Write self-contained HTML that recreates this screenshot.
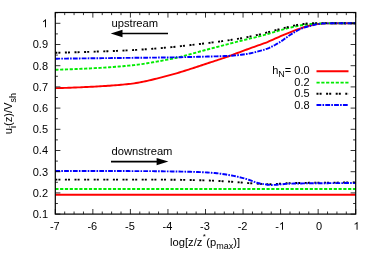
<!DOCTYPE html>
<html><head><meta charset="utf-8"><title>chart</title>
<style>html,body{margin:0;padding:0;background:#fff;overflow:hidden}body{width:374px;height:262px;position:relative;font-family:"Liberation Sans",sans-serif}</style></head>
<body>
<svg width="374" height="262" viewBox="0 0 374 262" style="position:absolute;left:0;top:0;will-change:transform">
<path d="M55.30,88.17 L57.18,88.13 L59.05,88.08 L60.93,88.03 L62.81,87.98 L64.69,87.92 L66.56,87.86 L68.44,87.79 L70.32,87.72 L72.20,87.65 L74.07,87.57 L75.95,87.50 L77.83,87.42 L79.71,87.33 L81.59,87.25 L83.46,87.16 L85.34,87.07 L87.22,86.97 L89.09,86.88 L90.97,86.79 L92.85,86.69 L94.73,86.59 L96.60,86.49 L98.48,86.38 L100.36,86.28 L102.24,86.16 L104.11,86.05 L105.99,85.93 L107.87,85.81 L109.75,85.68 L111.62,85.54 L113.50,85.40 L115.38,85.26 L117.26,85.10 L119.13,84.94 L121.01,84.78 L122.89,84.60 L124.77,84.42 L126.65,84.23 L128.52,84.03 L130.40,83.83 L132.28,83.60 L134.15,83.34 L136.03,83.05 L137.91,82.74 L139.79,82.40 L141.67,82.04 L143.54,81.66 L145.42,81.26 L147.30,80.84 L149.18,80.41 L151.05,79.97 L152.93,79.51 L154.81,79.04 L156.69,78.57 L158.56,78.09 L160.44,77.60 L162.32,77.12 L164.19,76.63 L166.07,76.15 L167.95,75.66 L169.83,75.18 L171.70,74.67 L173.58,74.14 L175.46,73.61 L177.34,73.05 L179.22,72.49 L181.09,71.91 L182.97,71.33 L184.85,70.74 L186.72,70.15 L188.60,69.55 L190.48,68.94 L192.36,68.34 L194.24,67.74 L196.11,67.14 L197.99,66.52 L199.87,65.90 L201.75,65.27 L203.62,64.63 L205.50,64.00 L207.38,63.38 L209.25,62.76 L211.13,62.14 L213.01,61.53 L214.89,60.91 L216.76,60.29 L218.64,59.67 L220.52,59.05 L222.40,58.42 L224.27,57.78 L226.15,57.13 L228.03,56.48 L229.91,55.81 L231.78,55.12 L233.66,54.42 L235.54,53.71 L237.42,52.99 L239.30,52.27 L241.17,51.56 L243.05,50.86 L244.93,50.17 L246.81,49.49 L248.68,48.81 L250.56,48.14 L252.44,47.47 L254.31,46.79 L256.19,46.12 L258.07,45.45 L259.95,44.79 L261.82,44.14 L263.70,43.47 L265.58,42.77 L267.46,42.03 L269.33,41.24 L271.21,40.41 L273.09,39.55 L274.97,38.69 L276.84,37.84 L278.72,37.02 L280.60,36.23 L282.48,35.44 L284.36,34.66 L286.23,33.88 L288.11,33.11 L289.99,32.35 L291.87,31.60 L293.74,30.87 L295.62,30.15 L297.50,29.45 L299.38,28.78 L301.25,28.13 L303.13,27.50 L305.01,26.90 L306.88,26.31 L308.76,25.78 L310.64,25.31 L312.52,24.90 L314.39,24.51 L316.27,24.18 L318.15,23.94 L320.03,23.75 L321.91,23.60 L323.78,23.48 L325.66,23.41 L327.54,23.36 L329.42,23.33 L331.29,23.31 L333.17,23.30 L335.05,23.30 L336.93,23.30 L338.80,23.30 L340.68,23.30 L342.56,23.30 L344.44,23.30 L346.31,23.30 L348.19,23.30 L350.07,23.30 L351.94,23.30 L353.82,23.30 L355.70,23.30" fill="none" stroke="#ff0000" stroke-width="1.9"/>
<path d="M55.30,69.73 L57.18,69.68 L59.05,69.64 L60.93,69.58 L62.81,69.53 L64.69,69.47 L66.56,69.40 L68.44,69.34 L70.32,69.27 L72.20,69.20 L74.07,69.12 L75.95,69.04 L77.83,68.96 L79.71,68.88 L81.59,68.79 L83.46,68.71 L85.34,68.62 L87.22,68.53 L89.09,68.43 L90.97,68.34 L92.85,68.24 L94.73,68.15 L96.60,68.04 L98.48,67.94 L100.36,67.83 L102.24,67.72 L104.11,67.60 L105.99,67.48 L107.87,67.36 L109.75,67.23 L111.62,67.10 L113.50,66.96 L115.38,66.81 L117.26,66.67 L119.13,66.52 L121.01,66.36 L122.89,66.19 L124.77,66.03 L126.65,65.85 L128.52,65.67 L130.40,65.49 L132.28,65.29 L134.15,65.08 L136.03,64.85 L137.91,64.61 L139.79,64.36 L141.67,64.09 L143.54,63.82 L145.42,63.53 L147.30,63.23 L149.18,62.93 L151.05,62.61 L152.93,62.29 L154.81,61.96 L156.69,61.63 L158.56,61.29 L160.44,60.95 L162.32,60.60 L164.19,60.25 L166.07,59.90 L167.95,59.55 L169.83,59.19 L171.70,58.81 L173.58,58.41 L175.46,57.99 L177.34,57.56 L179.22,57.11 L181.09,56.65 L182.97,56.17 L184.85,55.68 L186.72,55.18 L188.60,54.67 L190.48,54.15 L192.36,53.63 L194.24,53.11 L196.11,52.58 L197.99,52.06 L199.87,51.54 L201.75,51.02 L203.62,50.51 L205.50,50.01 L207.38,49.52 L209.25,49.02 L211.13,48.53 L213.01,48.03 L214.89,47.54 L216.76,47.04 L218.64,46.55 L220.52,46.06 L222.40,45.57 L224.27,45.08 L226.15,44.59 L228.03,44.10 L229.91,43.62 L231.78,43.13 L233.66,42.65 L235.54,42.17 L237.42,41.69 L239.30,41.21 L241.17,40.73 L243.05,40.26 L244.93,39.79 L246.81,39.34 L248.68,38.89 L250.56,38.44 L252.44,38.00 L254.31,37.55 L256.19,37.10 L258.07,36.64 L259.95,36.17 L261.82,35.68 L263.70,35.18 L265.58,34.65 L267.46,34.10 L269.33,33.54 L271.21,32.96 L273.09,32.39 L274.97,31.81 L276.84,31.25 L278.72,30.70 L280.60,30.17 L282.48,29.67 L284.36,29.18 L286.23,28.68 L288.11,28.19 L289.99,27.71 L291.87,27.24 L293.74,26.79 L295.62,26.37 L297.50,25.98 L299.38,25.62 L301.25,25.29 L303.13,24.99 L305.01,24.70 L306.88,24.44 L308.76,24.22 L310.64,24.04 L312.52,23.91 L314.39,23.80 L316.27,23.70 L318.15,23.62 L320.03,23.53 L321.91,23.45 L323.78,23.38 L325.66,23.34 L327.54,23.33 L329.42,23.31 L331.29,23.30 L333.17,23.30 L335.05,23.30 L336.93,23.30 L338.80,23.30 L340.68,23.30 L342.56,23.30 L344.44,23.30 L346.31,23.30 L348.19,23.30 L350.07,23.30 L351.94,23.30 L353.82,23.30 L355.70,23.30" fill="none" stroke="#00ec00" stroke-width="1.9" stroke-dasharray="3.2,1.6"/>
<path d="M55.30,52.77 L57.18,52.72 L59.05,52.68 L60.93,52.64 L62.81,52.59 L64.69,52.54 L66.56,52.49 L68.44,52.44 L70.32,52.39 L72.20,52.34 L74.07,52.29 L75.95,52.23 L77.83,52.18 L79.71,52.12 L81.59,52.07 L83.46,52.01 L85.34,51.95 L87.22,51.89 L89.09,51.83 L90.97,51.77 L92.85,51.71 L94.73,51.65 L96.60,51.58 L98.48,51.52 L100.36,51.46 L102.24,51.39 L104.11,51.33 L105.99,51.26 L107.87,51.19 L109.75,51.12 L111.62,51.05 L113.50,50.98 L115.38,50.91 L117.26,50.83 L119.13,50.75 L121.01,50.67 L122.89,50.59 L124.77,50.50 L126.65,50.41 L128.52,50.32 L130.40,50.22 L132.28,50.12 L134.15,50.02 L136.03,49.91 L137.91,49.80 L139.79,49.68 L141.67,49.55 L143.54,49.43 L145.42,49.30 L147.30,49.16 L149.18,49.02 L151.05,48.88 L152.93,48.73 L154.81,48.58 L156.69,48.43 L158.56,48.28 L160.44,48.12 L162.32,47.96 L164.19,47.80 L166.07,47.63 L167.95,47.47 L169.83,47.30 L171.70,47.12 L173.58,46.94 L175.46,46.75 L177.34,46.55 L179.22,46.35 L181.09,46.14 L182.97,45.93 L184.85,45.72 L186.72,45.50 L188.60,45.28 L190.48,45.06 L192.36,44.84 L194.24,44.62 L196.11,44.40 L197.99,44.18 L199.87,43.96 L201.75,43.74 L203.62,43.52 L205.50,43.30 L207.38,43.07 L209.25,42.85 L211.13,42.62 L213.01,42.38 L214.89,42.15 L216.76,41.91 L218.64,41.66 L220.52,41.41 L222.40,41.16 L224.27,40.90 L226.15,40.63 L228.03,40.36 L229.91,40.08 L231.78,39.80 L233.66,39.51 L235.54,39.21 L237.42,38.91 L239.30,38.59 L241.17,38.26 L243.05,37.93 L244.93,37.58 L246.81,37.21 L248.68,36.83 L250.56,36.43 L252.44,36.02 L254.31,35.61 L256.19,35.18 L258.07,34.75 L259.95,34.30 L261.82,33.84 L263.70,33.36 L265.58,32.86 L267.46,32.36 L269.33,31.85 L271.21,31.34 L273.09,30.84 L274.97,30.33 L276.84,29.83 L278.72,29.35 L280.60,28.87 L282.48,28.42 L284.36,27.95 L286.23,27.47 L288.11,26.99 L289.99,26.52 L291.87,26.06 L293.74,25.62 L295.62,25.21 L297.50,24.85 L299.38,24.53 L301.25,24.26 L303.13,24.00 L305.01,23.76 L306.88,23.56 L308.76,23.40 L310.64,23.30 L312.52,23.24 L314.39,23.19 L316.27,23.15 L318.15,23.12 L320.03,23.10 L321.91,23.09 L323.78,23.10 L325.66,23.14 L327.54,23.19 L329.42,23.25 L331.29,23.28 L333.17,23.30 L335.05,23.30 L336.93,23.30 L338.80,23.30 L340.68,23.30 L342.56,23.30 L344.44,23.30 L346.31,23.30 L348.19,23.30 L350.07,23.30 L351.94,23.30 L353.82,23.30 L355.70,23.30" fill="none" stroke="#000" stroke-width="1.9" stroke-dasharray="2,1.1,2,4.5"/>
<path d="M55.30,58.70 L57.18,58.68 L59.05,58.66 L60.93,58.64 L62.81,58.62 L64.69,58.60 L66.56,58.58 L68.44,58.56 L70.32,58.53 L72.20,58.51 L74.07,58.49 L75.95,58.47 L77.83,58.45 L79.71,58.43 L81.59,58.41 L83.46,58.39 L85.34,58.36 L87.22,58.34 L89.09,58.32 L90.97,58.30 L92.85,58.28 L94.73,58.26 L96.60,58.24 L98.48,58.22 L100.36,58.20 L102.24,58.17 L104.11,58.15 L105.99,58.13 L107.87,58.11 L109.75,58.09 L111.62,58.07 L113.50,58.05 L115.38,58.03 L117.26,58.00 L119.13,57.98 L121.01,57.96 L122.89,57.94 L124.77,57.92 L126.65,57.90 L128.52,57.88 L130.40,57.86 L132.28,57.84 L134.15,57.81 L136.03,57.79 L137.91,57.78 L139.79,57.76 L141.67,57.74 L143.54,57.72 L145.42,57.70 L147.30,57.68 L149.18,57.66 L151.05,57.64 L152.93,57.62 L154.81,57.60 L156.69,57.58 L158.56,57.56 L160.44,57.53 L162.32,57.51 L164.19,57.49 L166.07,57.46 L167.95,57.43 L169.83,57.40 L171.70,57.37 L173.58,57.34 L175.46,57.30 L177.34,57.27 L179.22,57.23 L181.09,57.19 L182.97,57.15 L184.85,57.11 L186.72,57.07 L188.60,57.02 L190.48,56.98 L192.36,56.93 L194.24,56.89 L196.11,56.84 L197.99,56.80 L199.87,56.75 L201.75,56.71 L203.62,56.66 L205.50,56.62 L207.38,56.57 L209.25,56.53 L211.13,56.48 L213.01,56.44 L214.89,56.38 L216.76,56.33 L218.64,56.27 L220.52,56.21 L222.40,56.14 L224.27,56.07 L226.15,55.99 L228.03,55.91 L229.91,55.81 L231.78,55.70 L233.66,55.55 L235.54,55.38 L237.42,55.19 L239.30,54.98 L241.17,54.75 L243.05,54.50 L244.93,54.24 L246.81,53.96 L248.68,53.66 L250.56,53.29 L252.44,52.86 L254.31,52.39 L256.19,51.91 L258.07,51.43 L259.95,50.94 L261.82,50.43 L263.70,49.88 L265.58,49.27 L267.46,48.60 L269.33,47.83 L271.21,46.96 L273.09,46.00 L274.97,44.99 L276.84,43.92 L278.72,42.82 L280.60,41.68 L282.48,40.41 L284.36,39.05 L286.23,37.65 L288.11,36.29 L289.99,35.00 L291.87,33.83 L293.74,32.68 L295.62,31.56 L297.50,30.48 L299.38,29.50 L301.25,28.63 L303.13,27.90 L305.01,27.28 L306.88,26.73 L308.76,26.22 L310.64,25.74 L312.52,25.25 L314.39,24.77 L316.27,24.35 L318.15,24.04 L320.03,23.82 L321.91,23.63 L323.78,23.49 L325.66,23.41 L327.54,23.36 L329.42,23.33 L331.29,23.31 L333.17,23.30 L335.05,23.30 L336.93,23.30 L338.80,23.30 L340.68,23.30 L342.56,23.30 L344.44,23.30 L346.31,23.30 L348.19,23.30 L350.07,23.30 L351.94,23.30 L353.82,23.30 L355.70,23.30" fill="none" stroke="#0000ff" stroke-width="1.9" stroke-dasharray="4.8,1.2,1.6,1.2"/>
<path d="M55.30,194.81 L57.18,194.81 L59.05,194.81 L60.93,194.81 L62.81,194.81 L64.69,194.81 L66.56,194.81 L68.44,194.81 L70.32,194.81 L72.20,194.81 L74.07,194.81 L75.95,194.81 L77.83,194.81 L79.71,194.81 L81.59,194.81 L83.46,194.81 L85.34,194.81 L87.22,194.81 L89.09,194.81 L90.97,194.81 L92.85,194.81 L94.73,194.81 L96.60,194.81 L98.48,194.81 L100.36,194.81 L102.24,194.81 L104.11,194.81 L105.99,194.81 L107.87,194.81 L109.75,194.81 L111.62,194.81 L113.50,194.81 L115.38,194.81 L117.26,194.81 L119.13,194.81 L121.01,194.81 L122.89,194.81 L124.77,194.81 L126.65,194.81 L128.52,194.81 L130.40,194.81 L132.28,194.81 L134.15,194.81 L136.03,194.81 L137.91,194.81 L139.79,194.81 L141.67,194.81 L143.54,194.81 L145.42,194.81 L147.30,194.81 L149.18,194.81 L151.05,194.81 L152.93,194.81 L154.81,194.81 L156.69,194.81 L158.56,194.81 L160.44,194.81 L162.32,194.81 L164.19,194.81 L166.07,194.81 L167.95,194.81 L169.83,194.81 L171.70,194.81 L173.58,194.81 L175.46,194.81 L177.34,194.81 L179.22,194.81 L181.09,194.81 L182.97,194.81 L184.85,194.81 L186.72,194.81 L188.60,194.81 L190.48,194.81 L192.36,194.81 L194.24,194.81 L196.11,194.81 L197.99,194.81 L199.87,194.81 L201.75,194.81 L203.62,194.81 L205.50,194.81 L207.38,194.81 L209.25,194.81 L211.13,194.81 L213.01,194.81 L214.89,194.81 L216.76,194.81 L218.64,194.81 L220.52,194.81 L222.40,194.81 L224.27,194.81 L226.15,194.81 L228.03,194.81 L229.91,194.81 L231.78,194.81 L233.66,194.81 L235.54,194.81 L237.42,194.81 L239.30,194.81 L241.17,194.81 L243.05,194.81 L244.93,194.81 L246.81,194.81 L248.68,194.81 L250.56,194.81 L252.44,194.81 L254.31,194.81 L256.19,194.81 L258.07,194.81 L259.95,194.81 L261.82,194.81 L263.70,194.81 L265.58,194.81 L267.46,194.81 L269.33,194.81 L271.21,194.81 L273.09,194.81 L274.97,194.81 L276.84,194.81 L278.72,194.81 L280.60,194.81 L282.48,194.81 L284.36,194.81 L286.23,194.81 L288.11,194.81 L289.99,194.81 L291.87,194.81 L293.74,194.81 L295.62,194.81 L297.50,194.81 L299.38,194.81 L301.25,194.81 L303.13,194.81 L305.01,194.81 L306.88,194.81 L308.76,194.81 L310.64,194.81 L312.52,194.81 L314.39,194.81 L316.27,194.81 L318.15,194.81 L320.03,194.81 L321.91,194.81 L323.78,194.81 L325.66,194.81 L327.54,194.81 L329.42,194.81 L331.29,194.81 L333.17,194.81 L335.05,194.81 L336.93,194.81 L338.80,194.81 L340.68,194.81 L342.56,194.81 L344.44,194.81 L346.31,194.81 L348.19,194.81 L350.07,194.81 L351.94,194.81 L353.82,194.81 L355.70,194.81" fill="none" stroke="#ff0000" stroke-width="1.9"/>
<path d="M55.30,189.00 L57.18,189.00 L59.05,189.00 L60.93,189.00 L62.81,189.00 L64.69,189.00 L66.56,189.00 L68.44,189.00 L70.32,189.00 L72.20,189.00 L74.07,189.00 L75.95,189.00 L77.83,189.00 L79.71,189.00 L81.59,189.00 L83.46,189.00 L85.34,189.00 L87.22,189.00 L89.09,189.00 L90.97,189.00 L92.85,189.00 L94.73,189.00 L96.60,189.00 L98.48,189.00 L100.36,189.00 L102.24,189.00 L104.11,189.00 L105.99,189.00 L107.87,189.00 L109.75,189.00 L111.62,189.00 L113.50,189.00 L115.38,189.00 L117.26,189.00 L119.13,189.00 L121.01,189.00 L122.89,189.00 L124.77,189.00 L126.65,189.00 L128.52,189.00 L130.40,189.00 L132.28,189.00 L134.15,189.00 L136.03,189.00 L137.91,189.00 L139.79,189.00 L141.67,189.00 L143.54,189.00 L145.42,189.00 L147.30,189.00 L149.18,189.00 L151.05,189.00 L152.93,189.00 L154.81,189.00 L156.69,189.00 L158.56,189.00 L160.44,189.00 L162.32,189.00 L164.19,189.00 L166.07,189.00 L167.95,189.00 L169.83,189.00 L171.70,189.00 L173.58,189.00 L175.46,189.00 L177.34,189.00 L179.22,189.00 L181.09,189.00 L182.97,189.00 L184.85,189.00 L186.72,189.00 L188.60,189.00 L190.48,189.00 L192.36,189.00 L194.24,189.00 L196.11,189.00 L197.99,189.00 L199.87,189.00 L201.75,189.00 L203.62,189.00 L205.50,189.00 L207.38,189.00 L209.25,189.00 L211.13,189.00 L213.01,189.00 L214.89,189.00 L216.76,189.00 L218.64,189.00 L220.52,189.00 L222.40,189.00 L224.27,189.00 L226.15,189.00 L228.03,189.00 L229.91,189.00 L231.78,189.00 L233.66,189.00 L235.54,189.00 L237.42,189.00 L239.30,189.00 L241.17,189.00 L243.05,189.00 L244.93,189.00 L246.81,189.00 L248.68,189.00 L250.56,189.00 L252.44,189.00 L254.31,189.00 L256.19,189.00 L258.07,189.00 L259.95,189.00 L261.82,189.00 L263.70,189.00 L265.58,189.00 L267.46,189.00 L269.33,189.00 L271.21,189.00 L273.09,189.00 L274.97,189.00 L276.84,189.00 L278.72,189.00 L280.60,189.00 L282.48,189.00 L284.36,189.00 L286.23,189.00 L288.11,189.00 L289.99,189.00 L291.87,189.00 L293.74,189.00 L295.62,189.00 L297.50,189.00 L299.38,189.00 L301.25,189.00 L303.13,189.00 L305.01,189.00 L306.88,189.00 L308.76,189.00 L310.64,189.00 L312.52,189.00 L314.39,189.00 L316.27,189.00 L318.15,189.00 L320.03,189.00 L321.91,189.00 L323.78,189.00 L325.66,189.00 L327.54,189.00 L329.42,189.00 L331.29,189.00 L333.17,189.00 L335.05,189.00 L336.93,189.00 L338.80,189.00 L340.68,189.00 L342.56,189.00 L344.44,189.00 L346.31,189.00 L348.19,189.00 L350.07,189.00 L351.94,189.00 L353.82,189.00 L355.70,189.00" fill="none" stroke="#00ec00" stroke-width="1.9" stroke-dasharray="3.2,1.6"/>
<path d="M55.30,179.65 L57.18,179.65 L59.05,179.65 L60.93,179.65 L62.81,179.65 L64.69,179.65 L66.56,179.65 L68.44,179.65 L70.32,179.65 L72.20,179.65 L74.07,179.65 L75.95,179.65 L77.83,179.65 L79.71,179.65 L81.59,179.65 L83.46,179.65 L85.34,179.65 L87.22,179.65 L89.09,179.65 L90.97,179.65 L92.85,179.65 L94.73,179.65 L96.60,179.65 L98.48,179.65 L100.36,179.65 L102.24,179.65 L104.11,179.65 L105.99,179.65 L107.87,179.65 L109.75,179.65 L111.62,179.65 L113.50,179.65 L115.38,179.65 L117.26,179.65 L119.13,179.65 L121.01,179.65 L122.89,179.65 L124.77,179.65 L126.65,179.65 L128.52,179.65 L130.40,179.65 L132.28,179.65 L134.15,179.65 L136.03,179.65 L137.91,179.65 L139.79,179.65 L141.67,179.65 L143.54,179.65 L145.42,179.65 L147.30,179.65 L149.18,179.65 L151.05,179.65 L152.93,179.65 L154.81,179.65 L156.69,179.65 L158.56,179.65 L160.44,179.65 L162.32,179.65 L164.19,179.66 L166.07,179.67 L167.95,179.68 L169.83,179.69 L171.70,179.71 L173.58,179.73 L175.46,179.75 L177.34,179.78 L179.22,179.81 L181.09,179.84 L182.97,179.87 L184.85,179.91 L186.72,179.95 L188.60,179.98 L190.48,180.02 L192.36,180.07 L194.24,180.11 L196.11,180.15 L197.99,180.20 L199.87,180.25 L201.75,180.29 L203.62,180.34 L205.50,180.39 L207.38,180.45 L209.25,180.51 L211.13,180.59 L213.01,180.67 L214.89,180.77 L216.76,180.86 L218.64,180.97 L220.52,181.07 L222.40,181.18 L224.27,181.30 L226.15,181.41 L228.03,181.52 L229.91,181.65 L231.78,181.78 L233.66,181.93 L235.54,182.08 L237.42,182.23 L239.30,182.39 L241.17,182.55 L243.05,182.70 L244.93,182.86 L246.81,183.01 L248.68,183.15 L250.56,183.28 L252.44,183.40 L254.31,183.51 L256.19,183.62 L258.07,183.74 L259.95,183.86 L261.82,183.97 L263.70,184.07 L265.58,184.14 L267.46,184.19 L269.33,184.21 L271.21,184.19 L273.09,184.13 L274.97,184.04 L276.84,183.94 L278.72,183.81 L280.60,183.68 L282.48,183.55 L284.36,183.42 L286.23,183.31 L288.11,183.22 L289.99,183.15 L291.87,183.11 L293.74,183.07 L295.62,183.03 L297.50,182.99 L299.38,182.96 L301.25,182.93 L303.13,182.90 L305.01,182.87 L306.88,182.84 L308.76,182.82 L310.64,182.80 L312.52,182.78 L314.39,182.76 L316.27,182.74 L318.15,182.72 L320.03,182.71 L321.91,182.69 L323.78,182.68 L325.66,182.66 L327.54,182.65 L329.42,182.63 L331.29,182.62 L333.17,182.60 L335.05,182.59 L336.93,182.58 L338.80,182.57 L340.68,182.56 L342.56,182.55 L344.44,182.54 L346.31,182.53 L348.19,182.52 L350.07,182.52 L351.94,182.52 L353.82,182.51 L355.70,182.51" fill="none" stroke="#000" stroke-width="1.9" stroke-dasharray="2,1.1,2,4.5"/>
<path d="M55.30,171.02 L57.18,171.02 L59.05,171.02 L60.93,171.02 L62.81,171.02 L64.69,171.02 L66.56,171.02 L68.44,171.02 L70.32,171.02 L72.20,171.02 L74.07,171.02 L75.95,171.02 L77.83,171.03 L79.71,171.03 L81.59,171.03 L83.46,171.03 L85.34,171.03 L87.22,171.03 L89.09,171.03 L90.97,171.03 L92.85,171.03 L94.73,171.03 L96.60,171.04 L98.48,171.04 L100.36,171.04 L102.24,171.04 L104.11,171.04 L105.99,171.04 L107.87,171.05 L109.75,171.05 L111.62,171.05 L113.50,171.05 L115.38,171.06 L117.26,171.06 L119.13,171.06 L121.01,171.06 L122.89,171.07 L124.77,171.07 L126.65,171.07 L128.52,171.07 L130.40,171.08 L132.28,171.08 L134.15,171.08 L136.03,171.09 L137.91,171.09 L139.79,171.09 L141.67,171.10 L143.54,171.10 L145.42,171.11 L147.30,171.11 L149.18,171.13 L151.05,171.15 L152.93,171.17 L154.81,171.20 L156.69,171.22 L158.56,171.25 L160.44,171.28 L162.32,171.30 L164.19,171.33 L166.07,171.35 L167.95,171.38 L169.83,171.41 L171.70,171.43 L173.58,171.46 L175.46,171.49 L177.34,171.53 L179.22,171.56 L181.09,171.59 L182.97,171.63 L184.85,171.67 L186.72,171.71 L188.60,171.75 L190.48,171.80 L192.36,171.85 L194.24,171.90 L196.11,171.96 L197.99,172.02 L199.87,172.10 L201.75,172.18 L203.62,172.28 L205.50,172.38 L207.38,172.49 L209.25,172.61 L211.13,172.74 L213.01,172.88 L214.89,173.04 L216.76,173.22 L218.64,173.44 L220.52,173.69 L222.40,173.96 L224.27,174.24 L226.15,174.55 L228.03,174.87 L229.91,175.20 L231.78,175.53 L233.66,175.88 L235.54,176.27 L237.42,176.69 L239.30,177.14 L241.17,177.61 L243.05,178.09 L244.93,178.60 L246.81,179.13 L248.68,179.75 L250.56,180.43 L252.44,181.14 L254.31,181.83 L256.19,182.47 L258.07,183.02 L259.95,183.45 L261.82,183.79 L263.70,184.13 L265.58,184.43 L267.46,184.69 L269.33,184.87 L271.21,184.95 L273.09,184.93 L274.97,184.85 L276.84,184.72 L278.72,184.56 L280.60,184.38 L282.48,184.19 L284.36,184.01 L286.23,183.85 L288.11,183.72 L289.99,183.64 L291.87,183.60 L293.74,183.56 L295.62,183.52 L297.50,183.49 L299.38,183.46 L301.25,183.43 L303.13,183.40 L305.01,183.38 L306.88,183.36 L308.76,183.34 L310.64,183.32 L312.52,183.30 L314.39,183.29 L316.27,183.27 L318.15,183.25 L320.03,183.24 L321.91,183.22 L323.78,183.21 L325.66,183.19 L327.54,183.18 L329.42,183.17 L331.29,183.15 L333.17,183.14 L335.05,183.13 L336.93,183.11 L338.80,183.10 L340.68,183.09 L342.56,183.08 L344.44,183.07 L346.31,183.07 L348.19,183.06 L350.07,183.05 L351.94,183.05 L353.82,183.04 L355.70,183.04" fill="none" stroke="#0000ff" stroke-width="1.9" stroke-dasharray="4.8,1.2,1.6,1.2"/>
<rect x="55.3" y="12.5" width="300.4" height="201.6" fill="none" stroke="#000" stroke-width="1.2"/>
<path d="M55.30,214.1v-5.1M55.30,12.5v5.1M64.69,214.1v-2.6M64.69,12.5v2.6M74.07,214.1v-2.6M74.07,12.5v2.6M83.46,214.1v-2.6M83.46,12.5v2.6M92.85,214.1v-5.1M92.85,12.5v5.1M102.24,214.1v-2.6M102.24,12.5v2.6M111.62,214.1v-2.6M111.62,12.5v2.6M121.01,214.1v-2.6M121.01,12.5v2.6M130.40,214.1v-5.1M130.40,12.5v5.1M139.79,214.1v-2.6M139.79,12.5v2.6M149.18,214.1v-2.6M149.18,12.5v2.6M158.56,214.1v-2.6M158.56,12.5v2.6M167.95,214.1v-5.1M167.95,12.5v5.1M177.34,214.1v-2.6M177.34,12.5v2.6M186.72,214.1v-2.6M186.72,12.5v2.6M196.11,214.1v-2.6M196.11,12.5v2.6M205.50,214.1v-5.1M205.50,12.5v5.1M214.89,214.1v-2.6M214.89,12.5v2.6M224.27,214.1v-2.6M224.27,12.5v2.6M233.66,214.1v-2.6M233.66,12.5v2.6M243.05,214.1v-5.1M243.05,12.5v5.1M252.44,214.1v-2.6M252.44,12.5v2.6M261.82,214.1v-2.6M261.82,12.5v2.6M271.21,214.1v-2.6M271.21,12.5v2.6M280.60,214.1v-5.1M280.60,12.5v5.1M289.99,214.1v-2.6M289.99,12.5v2.6M299.38,214.1v-2.6M299.38,12.5v2.6M308.76,214.1v-2.6M308.76,12.5v2.6M318.15,214.1v-5.1M318.15,12.5v5.1M327.54,214.1v-2.6M327.54,12.5v2.6M336.93,214.1v-2.6M336.93,12.5v2.6M346.31,214.1v-2.6M346.31,12.5v2.6M355.70,214.1v-5.1M355.70,12.5v5.1M55.3,214.10h5.1M355.7,214.10h-5.1M55.3,203.50h2.6M355.7,203.50h-2.6M55.3,192.90h5.1M355.7,192.90h-5.1M55.3,182.30h2.6M355.7,182.30h-2.6M55.3,171.70h5.1M355.7,171.70h-5.1M55.3,161.10h2.6M355.7,161.10h-2.6M55.3,150.50h5.1M355.7,150.50h-5.1M55.3,139.90h2.6M355.7,139.90h-2.6M55.3,129.30h5.1M355.7,129.30h-5.1M55.3,118.70h2.6M355.7,118.70h-2.6M55.3,108.10h5.1M355.7,108.10h-5.1M55.3,97.50h2.6M355.7,97.50h-2.6M55.3,86.90h5.1M355.7,86.90h-5.1M55.3,76.30h2.6M355.7,76.30h-2.6M55.3,65.70h5.1M355.7,65.70h-5.1M55.3,55.10h2.6M355.7,55.10h-2.6M55.3,44.50h5.1M355.7,44.50h-5.1M55.3,33.90h2.6M355.7,33.90h-2.6M55.3,23.30h5.1M355.7,23.30h-5.1M55.3,12.70h2.6M355.7,12.70h-2.6" stroke="#000" stroke-width="0.8" fill="none"/>
<g font-family="Liberation Sans, sans-serif" font-size="11" fill="#000">
<text x="48" y="218.00" text-anchor="end">0.1</text>
<text x="48" y="196.80" text-anchor="end">0.2</text>
<text x="48" y="175.60" text-anchor="end">0.3</text>
<text x="48" y="154.40" text-anchor="end">0.4</text>
<text x="48" y="133.20" text-anchor="end">0.5</text>
<text x="48" y="112.00" text-anchor="end">0.6</text>
<text x="48" y="90.80" text-anchor="end">0.7</text>
<text x="48" y="69.60" text-anchor="end">0.8</text>
<text x="48" y="48.40" text-anchor="end">0.9</text>
<path transform="translate(41.88,27.20) scale(0.005371)" d="M763 0H583V-1147Q518 -1085 412.5 -1023Q307 -961 223 -930V-1104Q374 -1175 487 -1276Q600 -1377 647 -1472H763Z" fill="#000"/>
<text x="54.80" y="229.8" text-anchor="middle">-7</text>
<text x="92.35" y="229.8" text-anchor="middle">-6</text>
<text x="129.90" y="229.8" text-anchor="middle">-5</text>
<text x="167.45" y="229.8" text-anchor="middle">-4</text>
<text x="205.00" y="229.8" text-anchor="middle">-3</text>
<text x="242.55" y="229.8" text-anchor="middle">-2</text>
<text x="275.21" y="229.8">-</text>
<path transform="translate(278.87,229.80) scale(0.005371)" d="M763 0H583V-1147Q518 -1085 412.5 -1023Q307 -961 223 -930V-1104Q374 -1175 487 -1276Q600 -1377 647 -1472H763Z" fill="#000"/>
<text x="318.95" y="229.8" text-anchor="middle">0</text>
<path transform="translate(353.44,229.80) scale(0.005371)" d="M763 0H583V-1147Q518 -1085 412.5 -1023Q307 -961 223 -930V-1104Q374 -1175 487 -1276Q600 -1377 647 -1472H763Z" fill="#000"/>
<text x="111.5" y="26.7" font-size="11.2">upstream</text>
<text x="111.5" y="154.7" font-size="11.2">downstream</text>
<text x="309.6" y="74.3" text-anchor="end">h<tspan font-size="9" dy="3">N</tspan><tspan dy="-3">= 0.0</tspan></text>
<text x="309.6" y="85.85" text-anchor="end">0.2</text>
<text x="309.6" y="97.40" text-anchor="end">0.5</text>
<text x="309.6" y="108.95" text-anchor="end">0.8</text>
<text x="170" y="246.1" font-size="11.2">log[z/z<tspan font-size="8" dy="-7.3" dx="0.3">*</tspan><tspan dy="7.3" dx="0.5">(p</tspan><tspan font-size="9" dy="3">max</tspan><tspan dy="-3">)]</tspan></text>
<text transform="translate(12.3,134.3) rotate(-90)" font-size="11.2">u<tspan font-size="9" dy="3.4">i</tspan><tspan dy="-3.4">(z)/V</tspan><tspan font-size="9" dy="3.4">sh</tspan></text>
</g>
<path d="M316.5,71.2H348.5" fill="none" stroke="#ff0000" stroke-width="1.9"/>
<path d="M316.5,82.6H348.5" fill="none" stroke="#00ec00" stroke-width="1.9" stroke-dasharray="3.2,1.6"/>
<path d="M316.5,93.8H348.5" fill="none" stroke="#000" stroke-width="1.9" stroke-dasharray="2,1.1,2,4.5"/>
<path d="M316.5,105.0H348.5" fill="none" stroke="#0000ff" stroke-width="1.9" stroke-dasharray="4.8,1.2,1.6,1.2"/>
<path d="M168,33.5H121" stroke="#000" stroke-width="1.7" fill="none"/><path d="M110.7,33.5L122.5,29.8V37.2Z" fill="#000"/>
<path d="M111,161.6H158" stroke="#000" stroke-width="1.7" fill="none"/><path d="M168.4,161.6L156.6,157.9V165.3Z" fill="#000"/>
</svg>
</body></html>
